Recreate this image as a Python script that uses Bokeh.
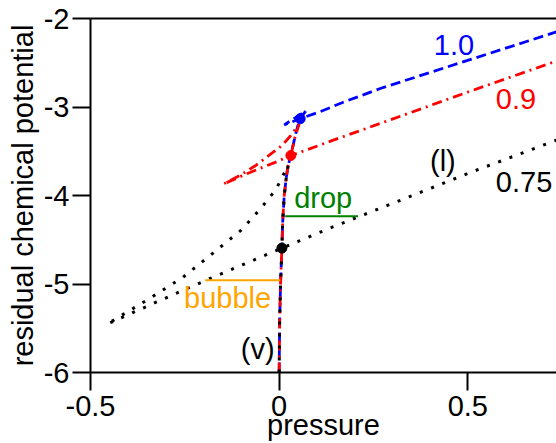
from bokeh.plotting import figure
from bokeh.models import Range1d, FixedTicker, LinearAxis
from bokeh.embed import file_html
from bokeh.resources import INLINE
from bokeh.core.properties import value

# ---- tick data ----
x_ticks = [-0.5, 0, 0.5]
x_tick_labels = ["-0.5", "0", "0.5"]
y_ticks = [-6, -5, -4, -3, -2]
y_tick_labels = ["-6", "-5", "-4", "-3", "-2"]

# ---- isotherm T = 0.75 (black dotted) ----
vap075_p = [0.0, 0.0013, 0.004, 0.0072, 0.0093, 0.0133, 0.0186, 0.0239]
vap075_mu = [-6.0, -5.409, -4.957, -4.595, -4.302, -4.008, -3.805, -3.658]
uns075_p = [0.0239, -0.008, -0.0504, -0.1008, -0.1724, -0.2546, -0.3422, -0.4562]
uns075_mu = [-3.658, -3.929, -4.155, -4.392, -4.641, -4.923, -5.160, -5.454]
liq075_p = [-0.4562, -0.3263, -0.1936, 0.0072, 0.1406, 0.3422, 0.5111, 0.7135, 0.74]
liq075_mu = [-5.454, -5.206, -4.957, -4.595, -4.358, -4.019, -3.733, -3.409, -3.367]

# ---- isotherm T = 0.9 (red dash-dot) ----
vap09_p = vap075_p + [0.031, 0.0411, 0.053]
vap09_mu = vap075_mu + [-3.548, -3.353, -3.194]
uns09_p = [0.053, 0.0292, 0.008, -0.0159, -0.061, -0.1034, -0.1485]
uns09_mu = [-3.194, -3.330, -3.432, -3.511, -3.658, -3.771, -3.872]
liq09_p = [-0.1485, -0.0822, -0.0027, 0.031, 0.0637, 0.1432, 0.2679, 0.496, 0.74]
liq09_mu = [-3.872, -3.748, -3.612, -3.548, -3.499, -3.375, -3.186, -2.837, -2.474]

# ---- isotherm T = 1.0 (blue dashed) ----
vap10_p = vap075_p + [0.031, 0.0411, 0.0491, 0.0557, 0.0708]
vap10_mu = vap075_mu + [-3.548, -3.353, -3.217, -3.132, -3.044]
uns10_p = [0.0708, 0.0451, 0.0133]
uns10_mu = [-3.044, -3.115, -3.202]
liq10_p = [0.0133, 0.0557, 0.1088, 0.1698, 0.2679, 0.5013, 0.74]
liq10_mu = [-3.202, -3.132, -3.053, -2.946, -2.791, -2.471, -2.144]

# ---- coexistence points ----
coex_p = [0.0072, 0.031, 0.0557]
coex_mu = [-4.595, -3.548, -3.132]
coex_colors = ["black", "red", "blue"]

# ---- drop / bubble tie lines ----
drop_p = [0.016, 0.209]
drop_mu = [-4.234, -4.234]
bubble_p = [-0.196, 0.003]
bubble_mu = [-4.957, -4.957]

FONT = "Liberation Sans"
FS = "29px"

p = figure(width=556, height=443,
           x_range=Range1d(-0.5, 0.735), y_range=Range1d(-6, -2),
           output_backend="svg", toolbar_location=None,
           min_border_left=90, min_border_right=0,
           min_border_top=18, min_border_bottom=71,
           x_axis_label="pressure", y_axis_label="residual chemical potential")
p.outline_line_color = None
p.xgrid.grid_line_color = None
p.ygrid.grid_line_color = None
p.background_fill_color = "white"
p.border_fill_color = "white"

for ax, ticks, labels in ((p.xaxis[0], x_ticks, x_tick_labels), (p.yaxis[0], y_ticks, y_tick_labels)):
    ax.ticker = FixedTicker(ticks=ticks)
    ax.major_label_overrides = {t: l for t, l in zip(ticks, labels)}
    ax.axis_line_width = 2
    ax.major_tick_line_width = 2
    ax.major_tick_out = 18
    ax.major_tick_in = 0
    ax.minor_tick_line_color = None
    ax.major_label_text_font = FONT
    ax.major_label_text_font_size = FS
    ax.major_label_text_color = "black"
    ax.axis_label_text_font = FONT
    ax.axis_label_text_font_size = FS
    ax.axis_label_text_font_style = "normal"
    ax.axis_label_text_color = "black"

p.xaxis[0].major_label_standoff = 5
p.xaxis[0].axis_label_standoff = -10
p.yaxis[0].major_label_standoff = 3
p.yaxis[0].axis_label_standoff = 2

top_axis = LinearAxis(ticker=FixedTicker(ticks=[]), axis_line_width=2,
                      major_tick_line_color=None, minor_tick_line_color=None,
                      major_label_text_font_size="0px")
p.add_layout(top_axis, "above")

def iso(vp, vm, up, um, lp, lm):
    return vp + up[1:] + lp[1:], vm + um[1:] + lm[1:]

bx, by = iso(vap10_p, vap10_mu, uns10_p, uns10_mu, liq10_p, liq10_mu)
rx, ry = iso(vap09_p, vap09_mu, uns09_p, uns09_mu, liq09_p, liq09_mu)
kx, ky = iso(vap075_p, vap075_mu, uns075_p, uns075_mu, liq075_p, liq075_mu)

p.line(bx, by, line_color="blue", line_width=2.8, line_dash="10 5")
p.line(rx, ry, line_color="red", line_width=2.8, line_dash="10 5 2 5")
p.line(kx, ky, line_color="black", line_width=3, line_dash="3 9")

p.line(drop_p, drop_mu, line_color="green", line_width=2)
p.line(bubble_p, bubble_mu, line_color="orange", line_width=2)

p.scatter(coex_p, coex_mu, marker="circle", size=10, fill_color=coex_colors,
          line_color=coex_colors)

texts = ["1.0", "0.9", "(l)", "0.75", "drop", "bubble", "(v)"]
tx = [0.410, 0.5743, 0.3997, 0.5743, 0.0398, -0.252, -0.1016]
ty = [-2.30, -2.91, -3.61, -3.85, -4.03, -5.16, -5.73]
tc = ["blue", "red", "black", "black", "green", "orange", "black"]
p.text(x=tx, y=ty, text=texts, text_color=tc, text_font=value(FONT),
       text_font_size=FS, text_baseline="alphabetic", text_align="left")

open("out.html", "w").write(file_html(p, INLINE))
